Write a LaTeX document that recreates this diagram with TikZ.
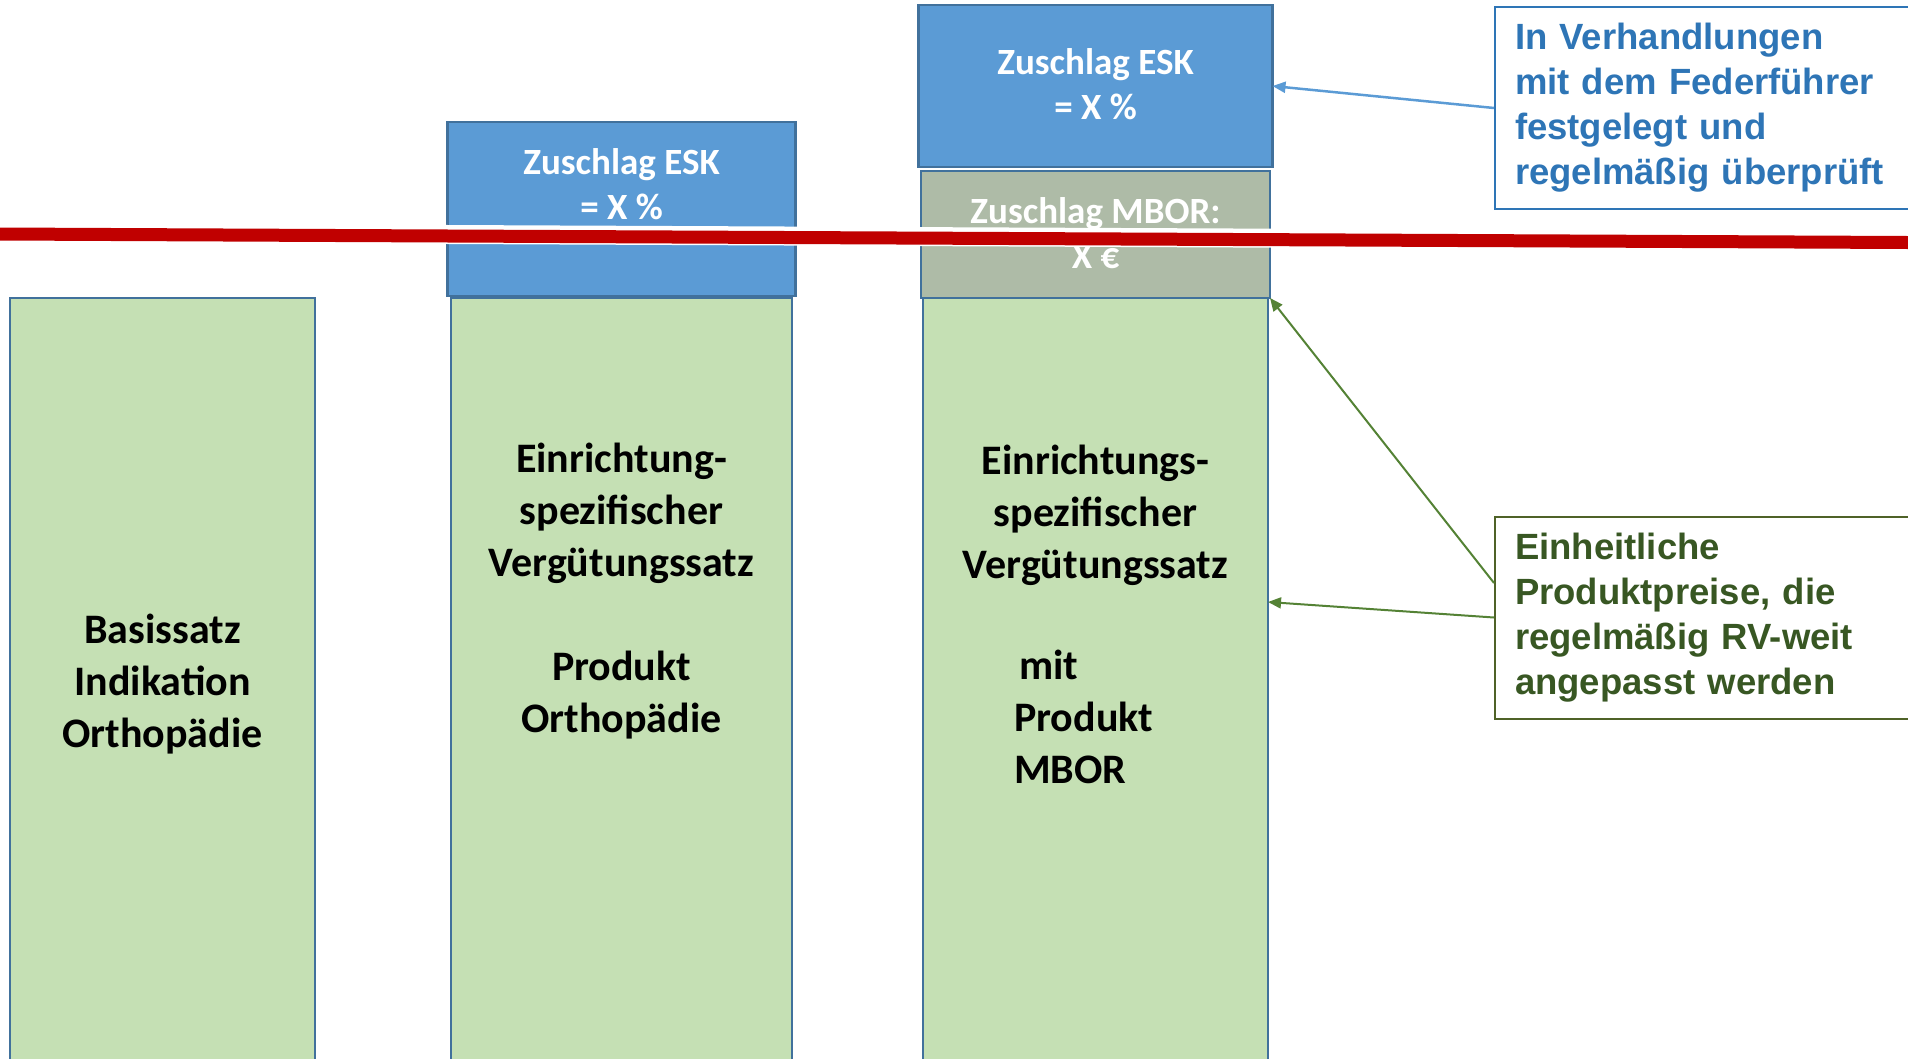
\documentclass[tikz,border=0pt]{standalone}
\usepackage{fontspec}
\setmainfont{Carlito}
\newfontfamily\arialfont{Liberation Sans}
\usetikzlibrary{arrows.meta,positioning,calc}
\definecolor{boxgreen}{RGB}{197,224,180}
\definecolor{boxblue}{RGB}{91,155,213}
\definecolor{boxgray}{RGB}{174,187,167}
\definecolor{edgeblue}{RGB}{65,113,156}
\definecolor{noteblue}{RGB}{46,117,182}
\definecolor{notegreen}{RGB}{56,87,35}
\definecolor{noteedge}{RGB}{79,98,40}
\definecolor{arrowgreen}{RGB}{84,130,53}
\definecolor{limitred}{RGB}{192,0,0}

\begin{document}
\begin{tikzpicture}[x=1pt, y=-1pt,
    bar/.style={draw=edgeblue, line width=2.5pt, rectangle, inner sep=0pt, outer sep=0pt},
    greenbar/.style={bar, fill=boxgreen, minimum height=772pt},
    bluebar/.style={bar, fill=boxblue},
    bartext/.style={font=\fontsize{42}{52}\selectfont\bfseries, align=center, anchor=base, inner sep=0pt},
    whitetext/.style={font=\fontsize{37}{45}\selectfont\bfseries, text=white, align=center, anchor=base, inner sep=0pt},
    note/.style={rectangle, line width=2pt, inner xsep=20pt, text width=400pt, minimum height=202pt, align=left, anchor=west, font=\arialfont\bfseries\fontsize{36.5}{45}\selectfont},
    bluearrow/.style={draw=boxblue, line width=2.5pt, -{Triangle[length=13pt,width=11pt]}},
    greenarrow/.style={draw=arrowgreen, line width=2pt, -{Triangle[length=13pt,width=11pt]}}]
    \useasboundingbox (0,0) rectangle (1908,1058);
    \clip (0,0) rectangle (1908,1058);

    % Columns
    \node[greenbar, minimum width=305pt, anchor=north west] (basis) at (10,298) {};
    \node[greenbar, minimum width=341pt, right=136pt of basis.north east, anchor=north west] (prod2) {};
    \node[bluebar, minimum width=348pt, minimum height=174pt, above=2pt of prod2] (esk2) {};
    \node[greenbar, minimum width=345pt, right=131pt of prod2.north east, anchor=north west] (prod3) {};
    \node[bar, fill=boxgray, minimum width=349pt, minimum height=127pt, above=0pt of prod3] (mbor) {};
    \node[bluebar, minimum width=354pt, minimum height=162pt, above=4pt of mbor] (esk3) {};

    % Texts in the columns
    \node[bartext] (basistext) at ($(basis.north)+(0,449)$) {Basissatz\\Indikation\\Orthopädie};
    \node[bartext] (prod2text) at ($(prod2.north)+(0,434)$) {Einrichtung-\\spezifischer\\Vergütungssatz\\[51.5pt]Produkt\\Orthopädie};
    \node[bartext] (prod3text) at ($(prod3.north)+(0,280)$) {Einrichtungs-\\spezifischer\\Vergütungssatz};
    \node[bartext, align=left, anchor=base west] (mbortext) at ($(prod3.north west)+(91,485)$) {\hspace*{5pt}mit\\Produkt\\MBOR};
    \node[whitetext] (esk2text) at ($(esk2.north)+(0,97.5)$) {Zuschlag ESK\\= X \%};
    \node[whitetext] (esk3text) at ($(esk3.north)+(0,114.5)$) {Zuschlag ESK\\= X \%};
    \node[whitetext] (mbortag) at ($(mbor.north)+(0,97.5)$) {Zuschlag MBOR:\\X €};

    % Notes on the right
    \node[note, draw=noteblue, text=noteblue] (verhandlung) at (1494,108) {In Verhandlungen\\mit dem Federführer\\festgelegt und\\regelmäßig überprüft};
    \node[note, draw=noteedge, text=notegreen] (preise) at (1494,617.5) {Einheitliche\\Produktpreise, die\\regelmäßig RV-weit\\angepasst werden};

    % Arrows
    \coordinate (prod3mid) at ($(prod3.north east)+(0,304)$);
    \draw[bluearrow] (verhandlung.west) -- (esk3.east);
    \draw[greenarrow] ([yshift=34.5pt]preise.west) -- (mbor.south east);
    \draw[greenarrow] (preise.west) -- (prod3mid);

    % Red limit line
    \coordinate (limitL) at (0,234);
    \coordinate (limitR) at (1908,242.5);
    \draw[white, line width=19pt] ($(limitL)+(0,-1.5)$) -- ($(limitR)+(0,-1.5)$);
    \draw[limitred, line width=13pt] (limitL) -- (limitR);
\end{tikzpicture}
\end{document}
